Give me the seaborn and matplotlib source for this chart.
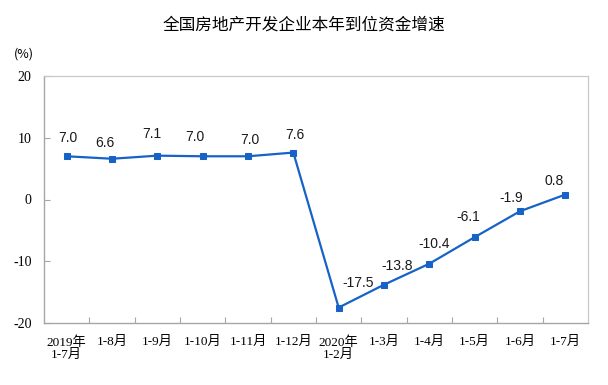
import numpy as np
import pandas as pd
import matplotlib
matplotlib.use("Agg")
import matplotlib.pyplot as plt
import seaborn as sns

# ---- data ----
periods = ["2019年\n1-7月", "1-8月", "1-9月", "1-10月", "1-11月", "1-12月",
           "2020年\n1-2月", "1-3月", "1-4月", "1-5月", "1-6月", "1-7月"]
growth = [7.0, 6.6, 7.1, 7.0, 7.0, 7.6, -17.5, -13.8, -10.4, -6.1, -1.9, 0.8]
value_labels = ["7.0", "6.6", "7.1", "7.0", "7.0", "7.6",
                "-17.5", "-13.8", "-10.4", "-6.1", "-1.9", "0.8"]
y_ticks = [-20, -10, 0, 10, 20]
title = "全国房地产开发企业本年到位资金增速"
unit = "(%)"

# label offsets in pixels (styling only)
label_offsets = [(1, 18), (-7, 16), (-6, 22), (-8, 19), (2, 16), (2, 18),
                 (19, 25), (13, 19), (5, 20), (-6, 20), (-9, 13), (-11, 14)]

df = pd.DataFrame({"pos": np.arange(len(periods)), "period": periods, "growth": growth})

sns.set_theme(style="white")
plt.rcParams["font.family"] = ["Liberation Sans", "Noto Sans CJK SC"]

fig = plt.figure(figsize=(6.08, 3.85), dpi=100)
ax = fig.add_axes([44 / 608, 1 - 323 / 385, (588 - 44) / 608, (323 - 76) / 385])

blue = "#1762C6"
sns.lineplot(data=df, x="pos", y="growth", ax=ax, color=blue, linewidth=1.6,
             marker="s", markersize=5, markeredgecolor=blue, markerfacecolor=blue,
             sort=False)

ax.set_xlim(-0.5, len(periods) - 0.5)
ax.set_ylim(-20, 20)
ax.set_xlabel("")
ax.set_ylabel("")

# y axis
ax.set_yticks(y_ticks)
ax.set_yticklabels([str(t) for t in y_ticks], family=["Liberation Serif"], fontsize=10,
                   color="#000000")
ax.tick_params(axis="y", which="major", direction="in", length=4, width=0.8,
               color="#A6A6A6", pad=9, left=True)

# x axis: labels at centers, tick marks at boundaries
ax.set_xticks(df["pos"])
ax.set_xticklabels(periods, family=["Liberation Serif", "Noto Sans CJK SC"], fontsize=9.5,
                   linespacing=1.05, color="#000000")
ax.tick_params(axis="x", which="major", length=0, pad=9.5)
ax.set_xticks(np.arange(0.5, len(periods) - 0.5, 1.0), minor=True)
ax.tick_params(axis="x", which="minor", direction="in", length=4, width=0.8,
               color="#A6A6A6", bottom=True)

for side in ["top", "right"]:
    ax.spines[side].set_color("#C8C8C8")
    ax.spines[side].set_linewidth(0.9)
for side in ["left", "bottom"]:
    ax.spines[side].set_color("#A6A6A6")
    ax.spines[side].set_linewidth(1.0)
ax.grid(False)

# data labels
for x, y, lab, (dx, dy) in zip(df["pos"], df["growth"], value_labels, label_offsets):
    ax.annotate(lab, (x, y), xytext=(dx, dy), textcoords="offset pixels",
                ha="center", va="center", fontsize=10, color="#1A1A1A",
                family=["Liberation Sans"])

fig.text(304 / 608, 1 - 25 / 385, title, ha="center", va="center", fontsize=12,
         family=["Noto Sans CJK SC", "DejaVu Sans"], color="#000000")
fig.text(24 / 608, 1 - 54 / 385, unit, ha="center", va="center", fontsize=9,
         family=["Noto Sans CJK SC", "DejaVu Sans"], color="#000000")

fig.savefig("out.png", dpi=100, facecolor="white")
